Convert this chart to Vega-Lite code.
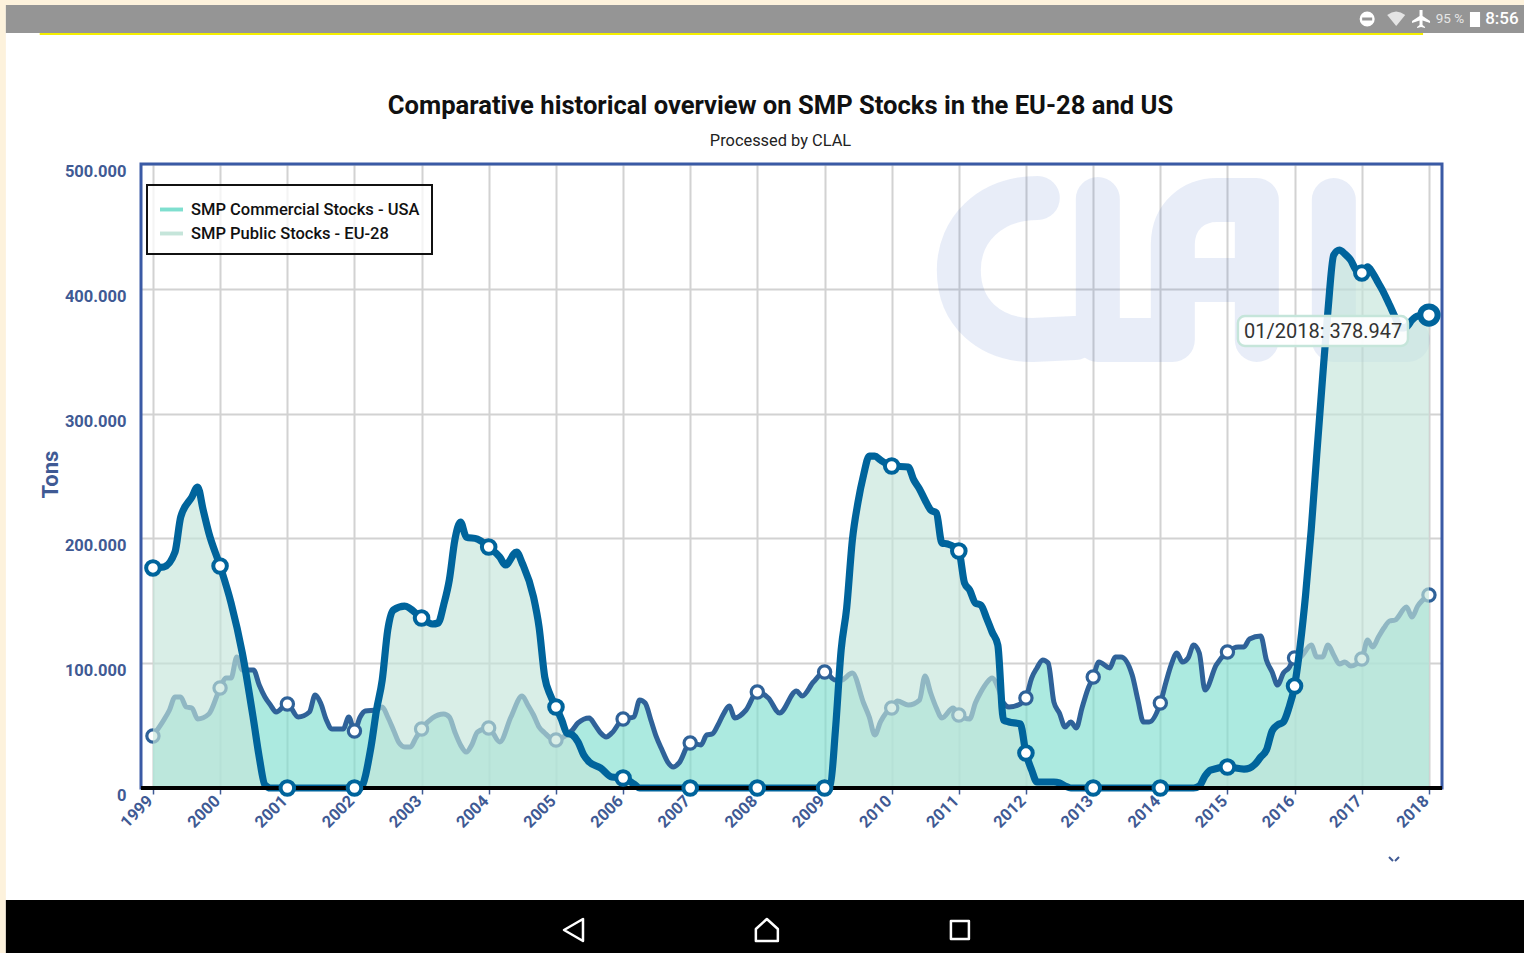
{
"$schema":"https://vega.github.io/schema/vega-lite/v6.json",
"width":1301,"height":624,
"autosize":{"type":"none"},
"padding":{"left":141,"top":164,"right":82,"bottom":165},
"background":"#ffffff",
"view":{"stroke":null,"fill":null},
"config":{"legend":{"strokeWidth":2}},
"title":{"text":"Comparative historical overview on SMP Stocks in the EU-28 and US","subtitle":"Processed by CLAL","anchor":"middle","frame":"group","dx":-11,"offset":-149,"font":"Roboto","fontSize":25.6,"fontWeight":700,"color":"#111111","subtitleFont":"Roboto","subtitleFontSize":16.4,"subtitleColor":"#222222","subtitlePadding":13},
"datasets":{
"eu":[
{"date":"1999-01-01","tons":176300},{"date":"1999-03-01","tons":177100},{"date":"1999-05-01","tons":189100},{"date":"1999-06-01","tons":217100},{"date":"1999-08-01","tons":233200},{"date":"1999-09-01","tons":241200},{"date":"1999-10-01","tons":222800},{"date":"1999-11-01","tons":204300},
{"date":"2000-01-01","tons":177900},{"date":"2000-03-01","tons":148200},{"date":"2000-05-01","tons":108200},{"date":"2000-07-01","tons":54500},{"date":"2000-08-01","tons":24800},{"date":"2000-09-01","tons":2400},{"date":"2000-10-01","tons":0},
{"date":"2001-01-01","tons":0},{"date":"2002-01-01","tons":0},{"date":"2002-02-01","tons":0},{"date":"2002-04-01","tons":32900},{"date":"2002-05-01","tons":62500},{"date":"2002-06-01","tons":86500},{"date":"2002-07-01","tons":126600},{"date":"2002-08-01","tons":142600},{"date":"2002-10-01","tons":145800},
{"date":"2003-01-01","tons":136200},{"date":"2003-03-01","tons":131400},{"date":"2003-04-01","tons":132200},{"date":"2003-05-01","tons":146600},{"date":"2003-06-01","tons":166700},{"date":"2003-07-01","tons":198700},{"date":"2003-08-01","tons":213100},{"date":"2003-09-01","tons":201100},{"date":"2003-11-01","tons":199500},
{"date":"2004-01-01","tons":193100},{"date":"2004-03-01","tons":185100},{"date":"2004-04-01","tons":178700},{"date":"2004-06-01","tons":189100},{"date":"2004-07-01","tons":180300},{"date":"2004-09-01","tons":153000},{"date":"2004-10-01","tons":129000},{"date":"2004-11-01","tons":88900},{"date":"2004-12-01","tons":74500},
{"date":"2005-01-01","tons":64900},{"date":"2005-02-01","tons":54500},{"date":"2005-03-01","tons":44100},{"date":"2005-04-01","tons":42500},{"date":"2005-05-01","tons":36900},{"date":"2005-06-01","tons":26400},{"date":"2005-07-01","tons":20800},{"date":"2005-09-01","tons":16000},{"date":"2005-11-01","tons":8800},
{"date":"2006-01-01","tons":8000},{"date":"2006-03-01","tons":3200},{"date":"2006-04-01","tons":0},{"date":"2007-01-01","tons":0},{"date":"2008-01-01","tons":0},{"date":"2009-01-01","tons":0},{"date":"2009-02-01","tons":2400},{"date":"2009-03-01","tons":46500},{"date":"2009-04-01","tons":110600},{"date":"2009-05-01","tons":144200},{"date":"2009-06-01","tons":198700},{"date":"2009-07-01","tons":228400},{"date":"2009-08-01","tons":250800},{"date":"2009-09-01","tons":266000},{"date":"2009-10-01","tons":266000},{"date":"2009-11-01","tons":262800},
{"date":"2010-01-01","tons":258000},{"date":"2010-04-01","tons":257200},{"date":"2010-05-01","tons":246800},{"date":"2010-06-01","tons":239600},{"date":"2010-07-01","tons":230800},{"date":"2010-08-01","tons":222800},{"date":"2010-09-01","tons":220400},{"date":"2010-10-01","tons":196300},{"date":"2010-11-01","tons":195500},
{"date":"2011-01-01","tons":189900},{"date":"2011-02-01","tons":164300},{"date":"2011-03-01","tons":158700},{"date":"2011-04-01","tons":148200},{"date":"2011-05-01","tons":146600},{"date":"2011-06-01","tons":136200},{"date":"2011-07-01","tons":125000},{"date":"2011-08-01","tons":114600},{"date":"2011-09-01","tons":54500},{"date":"2011-10-01","tons":52900},{"date":"2011-12-01","tons":51300},
{"date":"2012-01-01","tons":28000},{"date":"2012-02-01","tons":14400},{"date":"2012-03-01","tons":4800},{"date":"2012-06-01","tons":4800},{"date":"2012-07-01","tons":4000},{"date":"2012-08-01","tons":1600},{"date":"2012-09-01","tons":0},{"date":"2013-01-01","tons":0},{"date":"2014-01-01","tons":0},{"date":"2014-07-01","tons":0},{"date":"2014-08-01","tons":1600},{"date":"2014-09-01","tons":9600},{"date":"2014-10-01","tons":14400},
{"date":"2015-01-01","tons":16800},{"date":"2015-04-01","tons":15200},{"date":"2015-05-01","tons":16000},{"date":"2015-06-01","tons":19200},{"date":"2015-07-01","tons":24800},{"date":"2015-08-01","tons":30400},{"date":"2015-09-01","tons":45700},{"date":"2015-10-01","tons":50500},{"date":"2015-11-01","tons":52900},{"date":"2015-12-01","tons":64100},
{"date":"2016-01-01","tons":81700},{"date":"2016-02-01","tons":114600},{"date":"2016-03-01","tons":154600},{"date":"2016-04-01","tons":207500},{"date":"2016-05-01","tons":267600},{"date":"2016-06-01","tons":327700},{"date":"2016-07-01","tons":383000},{"date":"2016-08-01","tons":427100},{"date":"2016-09-01","tons":431100},{"date":"2016-10-01","tons":427900},{"date":"2016-11-01","tons":423100},{"date":"2016-12-01","tons":415000},
{"date":"2017-01-01","tons":412700},{"date":"2017-02-01","tons":417500},{"date":"2017-03-01","tons":412700},{"date":"2017-04-01","tons":404600},{"date":"2017-05-01","tons":396600},{"date":"2017-06-01","tons":387000},{"date":"2017-07-01","tons":377400},{"date":"2017-08-01","tons":368600},{"date":"2017-09-01","tons":369400},{"date":"2017-10-01","tons":375000},{"date":"2017-11-01","tons":378200},{"date":"2018-01-01","tons":378947}
],
"us":[
{"date":"1999-01-01","tons":41700},{"date":"1999-03-01","tons":54500},{"date":"1999-04-01","tons":62500},{"date":"1999-05-01","tons":72900},{"date":"1999-06-01","tons":72900},{"date":"1999-07-01","tons":64900},{"date":"1999-08-01","tons":64100},{"date":"1999-09-01","tons":55300},{"date":"1999-11-01","tons":59300},
{"date":"2000-01-01","tons":80100},{"date":"2000-02-01","tons":88100},{"date":"2000-03-01","tons":88100},{"date":"2000-04-01","tons":105000},{"date":"2000-05-01","tons":94600},{"date":"2000-07-01","tons":94600},{"date":"2000-08-01","tons":82500},{"date":"2000-09-01","tons":72900},{"date":"2000-10-01","tons":66500},{"date":"2000-11-01","tons":60900},
{"date":"2001-01-01","tons":67300},{"date":"2001-03-01","tons":56900},{"date":"2001-05-01","tons":60900},{"date":"2001-06-01","tons":74500},{"date":"2001-07-01","tons":68100},{"date":"2001-08-01","tons":54500},{"date":"2001-09-01","tons":47300},{"date":"2001-11-01","tons":47300},{"date":"2001-12-01","tons":56900},
{"date":"2002-01-01","tons":45700},{"date":"2002-02-01","tons":56900},{"date":"2002-03-01","tons":61700},{"date":"2002-05-01","tons":62500},{"date":"2002-06-01","tons":64900},{"date":"2002-07-01","tons":56900},{"date":"2002-08-01","tons":46500},{"date":"2002-09-01","tons":36100},{"date":"2002-10-01","tons":32900},{"date":"2002-11-01","tons":32900},{"date":"2002-12-01","tons":40100},
{"date":"2003-01-01","tons":47300},{"date":"2003-03-01","tons":56100},{"date":"2003-05-01","tons":59300},{"date":"2003-06-01","tons":56900},{"date":"2003-07-01","tons":44900},{"date":"2003-08-01","tons":34500},{"date":"2003-09-01","tons":28800},{"date":"2003-10-01","tons":34500},{"date":"2003-11-01","tons":44900},
{"date":"2004-01-01","tons":48100},{"date":"2004-03-01","tons":36900},{"date":"2004-05-01","tons":56900},{"date":"2004-07-01","tons":73700},{"date":"2004-08-01","tons":66500},{"date":"2004-09-01","tons":58500},{"date":"2004-10-01","tons":48900},{"date":"2004-11-01","tons":44100},{"date":"2004-12-01","tons":40100},
{"date":"2005-01-01","tons":38500},{"date":"2005-02-01","tons":40100},{"date":"2005-04-01","tons":46500},{"date":"2005-05-01","tons":52100},{"date":"2005-07-01","tons":56100},{"date":"2005-08-01","tons":50500},{"date":"2005-09-01","tons":44100},{"date":"2005-10-01","tons":40900},{"date":"2005-11-01","tons":44100},
{"date":"2006-01-01","tons":55300},{"date":"2006-03-01","tons":56900},{"date":"2006-04-01","tons":70500},{"date":"2006-05-01","tons":68100},{"date":"2006-06-01","tons":54500},{"date":"2006-07-01","tons":40900},{"date":"2006-08-01","tons":30400},{"date":"2006-09-01","tons":20800},{"date":"2006-10-01","tons":16800},{"date":"2006-11-01","tons":20000},
{"date":"2007-01-01","tons":36100},{"date":"2007-03-01","tons":34500},{"date":"2007-04-01","tons":42500},{"date":"2007-05-01","tons":43300},{"date":"2007-06-01","tons":50500},{"date":"2007-07-01","tons":59300},{"date":"2007-08-01","tons":65700},{"date":"2007-09-01","tons":56100},{"date":"2007-11-01","tons":62500},
{"date":"2008-01-01","tons":76900},{"date":"2008-03-01","tons":72100},{"date":"2008-05-01","tons":60100},{"date":"2008-08-01","tons":77700},{"date":"2008-09-01","tons":73700},{"date":"2008-11-01","tons":84900},
{"date":"2009-01-01","tons":92900},{"date":"2009-03-01","tons":86500},{"date":"2009-04-01","tons":86500},{"date":"2009-06-01","tons":92100},{"date":"2009-08-01","tons":68100},{"date":"2009-09-01","tons":56900},{"date":"2009-10-01","tons":42500},{"date":"2009-11-01","tons":52900},{"date":"2009-12-01","tons":60100},
{"date":"2010-01-01","tons":64100},{"date":"2010-02-01","tons":69700},{"date":"2010-04-01","tons":66500},{"date":"2010-06-01","tons":70500},{"date":"2010-07-01","tons":89700},{"date":"2010-08-01","tons":76100},{"date":"2010-09-01","tons":64100},{"date":"2010-10-01","tons":56100},{"date":"2010-12-01","tons":64100},
{"date":"2011-01-01","tons":58500},{"date":"2011-03-01","tons":55300},{"date":"2011-04-01","tons":68100},{"date":"2011-05-01","tons":76900},{"date":"2011-06-01","tons":84100},{"date":"2011-07-01","tons":88100},{"date":"2011-08-01","tons":80900},{"date":"2011-09-01","tons":68100},{"date":"2011-10-01","tons":64900},{"date":"2011-12-01","tons":67300},
{"date":"2012-01-01","tons":72100},{"date":"2012-02-01","tons":88100},{"date":"2012-03-01","tons":96200},{"date":"2012-04-01","tons":102600},{"date":"2012-05-01","tons":100200},{"date":"2012-06-01","tons":68900},{"date":"2012-07-01","tons":60100},{"date":"2012-08-01","tons":48900},{"date":"2012-09-01","tons":52900},{"date":"2012-10-01","tons":48100},{"date":"2012-11-01","tons":64100},{"date":"2012-12-01","tons":78500},
{"date":"2013-01-01","tons":88900},{"date":"2013-02-01","tons":101000},{"date":"2013-04-01","tons":96200},{"date":"2013-05-01","tons":105000},{"date":"2013-06-01","tons":105000},{"date":"2013-08-01","tons":90500},{"date":"2013-09-01","tons":70500},{"date":"2013-10-01","tons":52900},{"date":"2013-11-01","tons":52900},
{"date":"2014-01-01","tons":68100},{"date":"2014-02-01","tons":84900},{"date":"2014-03-01","tons":98600},{"date":"2014-04-01","tons":108200},{"date":"2014-05-01","tons":101000},{"date":"2014-06-01","tons":104200},{"date":"2014-07-01","tons":114600},{"date":"2014-08-01","tons":108200},{"date":"2014-09-01","tons":78500},{"date":"2014-11-01","tons":98600},
{"date":"2015-01-01","tons":109000},{"date":"2015-03-01","tons":113000},{"date":"2015-04-01","tons":113000},{"date":"2015-05-01","tons":119400},{"date":"2015-07-01","tons":121800},{"date":"2015-08-01","tons":102600},{"date":"2015-09-01","tons":92900},{"date":"2015-10-01","tons":82500},{"date":"2015-11-01","tons":92100},{"date":"2015-12-01","tons":96200},
{"date":"2016-01-01","tons":104200},{"date":"2016-02-01","tons":105000},{"date":"2016-04-01","tons":114600},{"date":"2016-05-01","tons":105000},{"date":"2016-06-01","tons":105000},{"date":"2016-07-01","tons":114600},{"date":"2016-08-01","tons":106600},{"date":"2016-09-01","tons":99400},{"date":"2016-10-01","tons":101000},{"date":"2016-11-01","tons":97800},
{"date":"2017-01-01","tons":103400},{"date":"2017-02-01","tons":118600},{"date":"2017-03-01","tons":113000},{"date":"2017-04-01","tons":121000},{"date":"2017-05-01","tons":128200},{"date":"2017-06-01","tons":133800},{"date":"2017-07-01","tons":134600},{"date":"2017-09-01","tons":145000},{"date":"2017-10-01","tons":137000},{"date":"2017-11-01","tons":145800},{"date":"2018-01-01","tons":154600}
]
},
"encoding":{
"x":{"field":"date","type":"temporal","title":null,"scale":{"type":"utc","domain":["1998-10-28","2018-03-13"]},
"axis":{"tickCount":{"interval":"year","step":1},"labelExpr":"utcFormat(datum.value,'%Y')","labelAngle":-45,"labelAlign":"right","labelBaseline":"middle","labelFont":"Roboto","labelFontSize":16.5,"labelFontWeight":700,"labelColor":"#3f5a94","labelPadding":4,"labelOffset":-3,"labelOverlap":false,"labelBound":false,"labelFlush":false,"tickColor":"#3f5a94","tickSize":6,"tickWidth":1.5,"domain":false,"grid":true,"gridColor":"#d2d2d2","gridWidth":2}},
"y":{"field":"tons","type":"quantitative","stack":null,"title":"Tons","scale":{"domain":[0,500000],"nice":false},
"axis":{"values":[0,100000,200000,300000,400000,500000],"labelExpr":"replace(format(datum.value,','),',','.')","labelFont":"Roboto","labelFontSize":16.5,"labelFontWeight":700,"labelColor":"#3f5a94","labelPadding":15,"labelOffset":7.5,"ticks":false,"domain":false,"grid":true,"gridColor":"#d2d2d2","gridWidth":2,"titleFont":"Roboto","titleFontSize":22,"titleFontWeight":700,"titleColor":"#3f5a94","titlePadding":2,"titleY":310}}
},
"layer":[
{"data":{"values":[{"date":"1996-08-24","date2":"1996-10-23","tons":631408,"tons2":-132211},{"date":"1996-08-24","date2":"2019-07-04","tons":631408,"tons2":627403}]},"mark":{"type":"rect","fill":"#fdf2dc"},"encoding":{"x2":{"field":"date2"},"y2":{"field":"tons2"}}},
{"data":{"values":[{"date":"1996-10-23","date2":"2019-07-04","tons":627403,"tons2":604966}]},"mark":{"type":"rect","fill":"#959595"},"encoding":{"x2":{"field":"date2"},"y2":{"field":"tons2"}}},
{"data":{"values":[{"date":"1997-04-25","date2":"2017-11-30","tons":604966,"tons2":603364}]},"mark":{"type":"rect","fill":"#f4ee00"},"encoding":{"x2":{"field":"date2"},"y2":{"field":"tons2"}}},
{"data":{"values":[{"date":"1996-10-23","date2":"2019-07-04","tons":-89743,"tons2":-132211}]},"mark":{"type":"rect","fill":"#000000"},"encoding":{"x2":{"field":"date2"},"y2":{"field":"tons2"}}},
{"data":{"values":[{"date":"1998-10-28","date2":"2018-03-13","tons":500000,"tons2":0}]},"mark":{"type":"rect","fill":null,"stroke":"#3a5aa5","strokeWidth":3},"encoding":{"x2":{"field":"date2"},"y2":{"field":"tons2"}}},
{"data":{"values":[{"date":"2014-04-17","tons":415063}]},"mark":{"type":"point","filled":false,"fill":null,"stroke":"#3f69c5","strokeOpacity":0.12,"strokeWidth":44,"strokeCap":"round","strokeJoin":"round","opacity":1,"size":4,"shape":"M-142,-72 C-190,-72 -221,-40 -221,0 C-221,43 -190,70 -147,70 L-105,68 M-82,-71 L-82,70 L-7,70 L-7,-25 C-7,-55 15,-70 37,-70 L77,-70 L77,70 M-7,10 L77,10 M154,-70 L154,70 L228,70"}},
{"data":{"name":"us"},"mark":{"type":"area","interpolate":"monotone","fillOpacity":0.65},"encoding":{"color":{"datum":"SMP Commercial Stocks - USA","type":"nominal","scale":{"domain":["SMP Commercial Stocks - USA","SMP Public Stocks - EU-28"],"range":["#7fdfcf","#c5e5da"]},"legend":{"title":null,"orient":"none","legendX":6,"legendY":21,"symbolType":"M-1,-0.17 L1,-0.17 L1,0.17 L-1,0.17 Z","symbolSize":529,"symbolOpacity":1,"labelFont":"Roboto","labelFontSize":16.5,"labelFontWeight":500,"labelColor":"#111111","labelLimit":0,"fillColor":"rgba(255,255,255,0.75)","strokeColor":"#111111","padding":12,"rowPadding":3,"labelOffset":7}}}},
{"data":{"name":"us"},"mark":{"type":"line","interpolate":"monotone","stroke":"#2f6299","strokeWidth":5,"strokeCap":"round"}},
{"data":{"name":"us"},"transform":[{"filter":"utcmonth(toDate(datum.date))===0"}],"mark":{"type":"point","filled":true,"fill":"#ffffff","stroke":"#2f6299","strokeWidth":3.2,"size":150,"opacity":1}},
{"data":{"name":"eu"},"mark":{"type":"area","interpolate":"monotone","fillOpacity":0.65},"encoding":{"color":{"datum":"SMP Public Stocks - EU-28","type":"nominal"}}},
{"data":{"name":"eu"},"mark":{"type":"line","interpolate":"monotone","stroke":"#00649c","strokeWidth":7.2,"strokeCap":"round"}},
{"data":{"values":[{"date":"1998-10-28","date2":"2018-03-13","tons":0}]},"mark":{"type":"rule","stroke":"#000000","strokeWidth":4},"encoding":{"x2":{"field":"date2"}}},
{"data":{"name":"eu"},"transform":[{"filter":"utcmonth(toDate(datum.date))===0 && utcyear(toDate(datum.date))<2018"}],"mark":{"type":"point","filled":true,"fill":"#ffffff","stroke":"#00649c","strokeWidth":4,"size":185,"opacity":1}},
{"data":{"name":"eu"},"transform":[{"filter":"utcyear(toDate(datum.date))===2018"}],"mark":{"type":"point","filled":true,"fill":"#ffffff","stroke":"#00649c","strokeWidth":6,"size":300,"opacity":1}},
{"data":{"values":[{"date":"2015-02-27","date2":"2017-09-09","tons":378204,"tons2":354166}]},"mark":{"type":"rect","fill":"#ffffff","fillOpacity":0.9,"stroke":"#c5e5da","strokeWidth":2.5,"cornerRadius":7},"encoding":{"x2":{"field":"date2"},"y2":{"field":"tons2"}}},
{"data":{"values":[{"date":"2016-06-04","tons":365400}]},"mark":{"type":"text","text":"01/2018: 378.947","font":"Roboto","fontSize":20,"fill":"#333333","align":"center","baseline":"middle"}},
{"data":{"values":[{"date":"2017-01-30","tons":616184}]},"mark":{"type":"point","filled":true,"fill":"#ffffff","size":227,"opacity":1}},
{"data":{"values":[{"date":"2017-01-30","tons":616184}]},"mark":{"type":"point","filled":false,"fill":null,"stroke":"#959595","strokeWidth":3,"size":4,"opacity":1,"shape":"M-5,0 L5,0"}},
{"data":{"values":[{"date":"2017-07-07","tons":616184}]},"mark":{"type":"point","filled":true,"fill":"#e4e4e4","size":4,"opacity":1,"shape":"M-9,-4 Q0,-11 9,-4 L0,7 Z"}},
{"data":{"values":[{"date":"2017-11-19","tons":616184}]},"mark":{"type":"point","filled":true,"fill":"#ffffff","size":4,"opacity":1,"shape":"M-1.5,-9 L1.5,-9 L1.5,-3 L9,2 L9,4 L1.5,1.5 L1.5,6 L4,8 L4,9 L0,8 L-4,9 L-4,8 L-1.5,6 L-1.5,1.5 L-9,4 L-9,2 L-1.5,-3 Z"}},
{"data":{"values":[{"date":"2018-04-25","tons":616184}]},"mark":{"type":"text","text":"95 %","font":"Roboto","fontSize":13.5,"fill":"#e6e6e6","align":"center","baseline":"middle"}},
{"data":{"values":[{"date":"2018-08-12","date2":"2018-10-06","tons":621793,"tons2":609774}]},"mark":{"type":"rect","fill":"#ffffff"},"encoding":{"x2":{"field":"date2"},"y2":{"field":"tons2"}}},
{"data":{"values":[{"date":"2019-02-02","tons":616184}]},"mark":{"type":"text","text":"8:56","font":"Roboto","fontSize":17,"fontWeight":500,"fill":"#ffffff","align":"center","baseline":"middle"}},
{"data":{"values":[{"date":"2005-04-09","tons":-113782}]},"mark":{"type":"point","filled":false,"fill":null,"stroke":"#ffffff","strokeWidth":2.5,"strokeJoin":"round","size":4,"opacity":1,"shape":"M-10,0 L9,-11 L9,11 Z"}},
{"data":{"values":[{"date":"2008-02-22","tons":-113782}]},"mark":{"type":"point","filled":false,"fill":null,"stroke":"#ffffff","strokeWidth":2.5,"strokeJoin":"round","size":4,"opacity":1,"shape":"M0,-11 L11,-1 L11,11 L-11,11 L-11,-1 Z"}},
{"data":{"values":[{"date":"2011-01-07","tons":-113782}]},"mark":{"type":"point","filled":false,"fill":null,"stroke":"#ffffff","strokeWidth":2.5,"strokeJoin":"round","size":4,"opacity":1,"shape":"M-9,-9 L9,-9 L9,9 L-9,9 Z"}},
{"data":{"values":[{"date":"2017-06-25","tons":-56891}]},"mark":{"type":"point","filled":false,"fill":null,"stroke":"#3f5a94","strokeWidth":2,"size":4,"opacity":1,"shape":"M-5,-2 L-1,2 M5,-2 L1,2"}}
]
}
